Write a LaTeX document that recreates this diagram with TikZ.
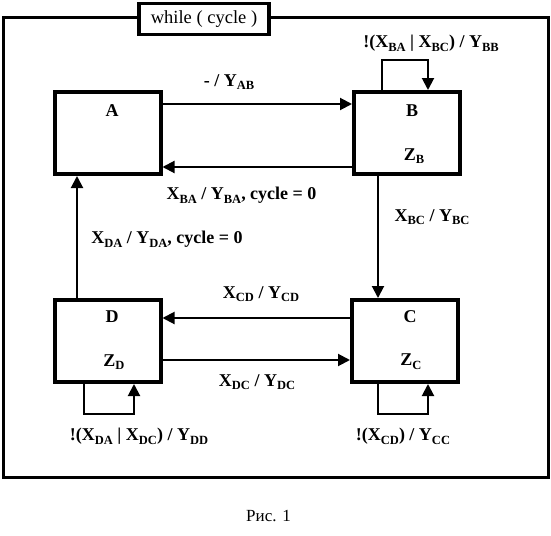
\documentclass[tikz,border=0pt]{standalone}
\usepackage{fontspec}
\setmainfont{Liberation Serif}
\usetikzlibrary{arrows.meta}
\tikzset{>={Triangle[length=12pt,width=12pt]}}
\tikzset{
  state/.style={draw, line width=4pt, minimum width=106pt, minimum height=82pt, inner sep=0pt},
  lbl/.style={font=\fontsize{18}{18}\selectfont\bfseries, inner sep=0pt},
  wire/.style={line width=2pt}
}
\newcommand{\sub}[1]{\raisebox{-0.45ex}{\fontsize{12.5}{12.5}\selectfont\bfseries #1}}

\begin{document}
\begin{tikzpicture}[x=1pt, y=-1pt]
      \useasboundingbox (0,0) rectangle (551,535);
      % frame
      \draw[line width=3pt] (3,18) rectangle (548,477);
      \node[draw, fill=white, line width=3.5pt, minimum width=130pt, minimum height=31pt, inner sep=0pt,
        font=\fontsize{18.5}{18.5}\selectfont] (title) at (204,19) {while ( cycle )};
      % states
      \node[state] (A) at (107.5,133) {};
      \node[state] (B) at (407,133) {};
      \node[state] (D) at (107.5,341) {};
      \node[state] (C) at (405,341) {};
      \node[lbl] (nA) at (112,111) {A};
      \node[lbl] (nB) at (412,111) {B};
      \node[lbl] (zB) at (414,156) {Z\sub{B}};
      \node[lbl] (nD) at (112,317) {D};
      \node[lbl] (zD) at (114,362) {Z\sub{D}};
      \node[lbl] (nC) at (410,317) {C};
      \node[lbl] (zC) at (411,362) {Z\sub{C}};
      % transitions
      \draw[wire, ->] ([yshift=29pt]A.east) -- ([yshift=29pt]B.west);
      \draw[wire, ->] ([yshift=-34pt]B.west) -- ([yshift=-34pt]A.east);
      \draw[wire, ->] ([xshift=-25pt]B.north) -- ++(0,-30) -| ([xshift=21pt]B.north);
      \draw[wire, ->] ([xshift=-29pt]B.south) -- ([xshift=-29pt]B.south |- C.north);
      \draw[wire, ->] ([yshift=23pt]C.west) -- ([yshift=23pt]D.east);
      \draw[wire, ->] ([yshift=-19pt]D.east) -- ([yshift=-19pt]C.west);
      \draw[wire, ->] ([xshift=-30.5pt]D.north) -- ([xshift=-30.5pt]D.north |- A.south);
      \draw[wire, ->] ([xshift=-23.5pt]D.south) -- ++(0,30) -| ([xshift=26.5pt]D.south);
      \draw[wire, ->] ([xshift=-27pt]C.south) -- ++(0,30) -| ([xshift=23pt]C.south);
      % labels
      \node[lbl] (lAB) at (229,82) {- / Y\sub{AB}};
      \node[lbl] (lBB) at (431,43) {!(X\sub{BA} | X\sub{BC}) / Y\sub{BB}};
      \node[lbl] (lBA) at (241.5,195) {X\sub{BA} / Y\sub{BA}, cycle = 0};
      \node[lbl] (lBC) at (432,217) {X\sub{BC} / Y\sub{BC}};
      \node[lbl] (lDA) at (167,239) {X\sub{DA} / Y\sub{DA}, cycle = 0};
      \node[lbl] (lCD) at (261,294) {X\sub{CD} / Y\sub{CD}};
      \node[lbl] (lDC) at (257,382) {X\sub{DC} / Y\sub{DC}};
      \node[lbl] (lDD) at (139,436) {!(X\sub{DA} | X\sub{DC}) / Y\sub{DD}};
      \node[lbl] (lCC) at (403,436) {!(X\sub{CD}) / Y\sub{CC}};
      \node[font=\fontsize{17}{17}\selectfont, inner sep=0pt] (cap) at (268.5,516) {Рис. 1};
\end{tikzpicture}
\end{document}
